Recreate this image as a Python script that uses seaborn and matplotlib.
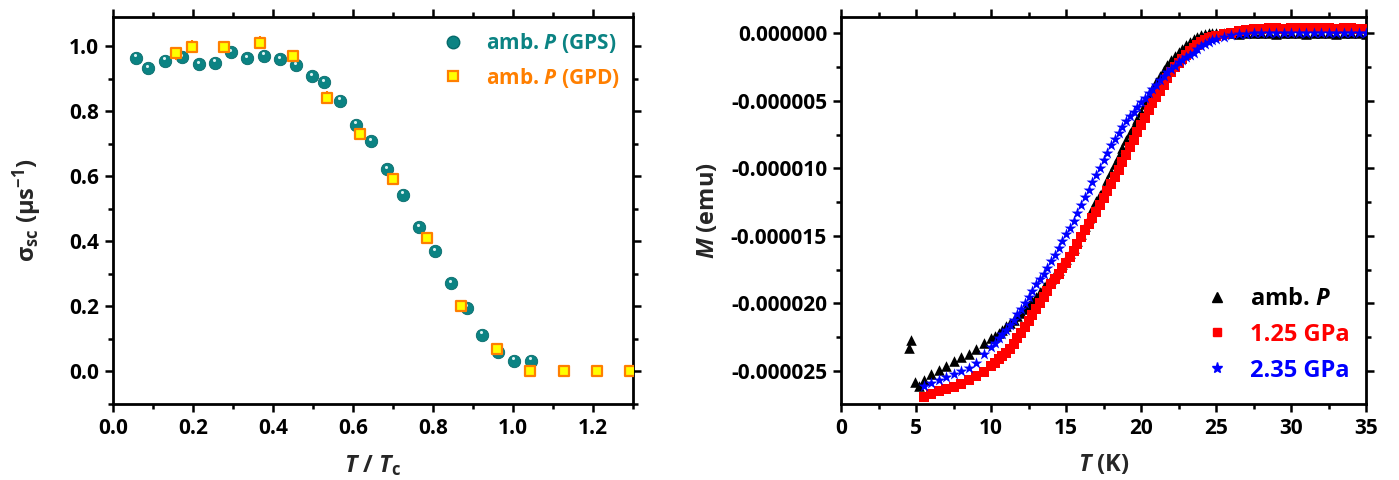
import numpy as np
import pandas as pd
import matplotlib
matplotlib.use("Agg")
import matplotlib.pyplot as plt
import matplotlib.transforms as mtransforms
import seaborn as sns
from matplotlib.ticker import MultipleLocator, FixedLocator, FormatStrFormatter
from matplotlib.lines import Line2D

# ==============================
# DATA
# ==============================

# left panel: sigma_sc vs T/Tc
gps_t = [0.057, 0.087, 0.131, 0.173, 0.215, 0.254, 0.296, 0.336, 0.377, 0.418,
         0.458, 0.498, 0.528, 0.568, 0.608, 0.646, 0.685, 0.725, 0.766, 0.806,
         0.845, 0.885, 0.922, 0.963, 1.002, 1.044]
gps_sigma = [0.964, 0.933, 0.956, 0.966, 0.945, 0.949, 0.982, 0.963, 0.971, 0.960,
             0.941, 0.908, 0.890, 0.833, 0.758, 0.708, 0.622, 0.543, 0.444, 0.370,
             0.272, 0.196, 0.113, 0.059, 0.033, 0.033]

gpd_t = [0.158, 0.197, 0.278, 0.368, 0.451, 0.534, 0.618, 0.700, 0.785, 0.871,
         0.960, 1.043, 1.127, 1.211, 1.293]
gpd_sigma = [0.978, 0.998, 0.998, 1.011, 0.969, 0.841, 0.731, 0.593, 0.410, 0.201,
             0.069, 0.0, 0.0, 0.0, 0.0]
gpd_err = [0.02, 0.02, 0.018, 0.02, 0.018, 0.02, 0.012, 0.01, 0.01, 0.008,
           0.01, 0.005, 0.005, 0.005, 0.005]

# right panel: M (in 1e-6 emu) vs T (K)
temp_grid = [5.5, 6.0, 6.5, 7.0, 7.5, 8.0, 8.5, 9.0, 9.5,
             10.0, 10.25, 10.5, 10.75, 11.0, 11.25, 11.5, 11.75, 12.0, 12.25,
             12.5, 12.75, 13.0, 13.25, 13.5, 13.75, 14.0, 14.25, 14.5, 14.75,
             15.0, 15.25, 15.5, 15.75, 16.0, 16.25, 16.5, 16.75, 17.0, 17.25,
             17.5, 17.75, 18.0, 18.25, 18.5, 18.75, 19.0, 19.25, 19.5, 19.75,
             20.0, 20.25, 20.5, 20.75, 21.0, 21.25, 21.5, 21.75, 22.0, 22.25,
             22.5, 22.75, 23.0, 23.25, 23.5, 23.75, 24.0, 24.25, 24.5, 24.75,
             25.0, 25.5, 26.0, 26.5, 27.0, 27.5, 28.0, 28.5, 29.0, 29.5,
             30.0, 30.5, 31.0, 31.5, 32.0, 32.5, 33.0, 33.5, 34.0, 34.5, 35.0]

amb_t = [4.5, 4.65, 4.95, 5.2] + temp_grid
amb_m = [-23.3, -22.7, -25.8, -26.1,
         -25.7, -25.2, -24.9, -24.6, -24.3, -24.0, -23.75, -23.35, -22.95,
         -22.6, -22.4, -22.2, -21.95, -21.7, -21.45, -21.2, -20.95, -20.7, -20.4,
         -20.1, -19.8, -19.5, -19.15, -18.8, -18.5, -18.2, -17.85, -17.5, -17.1,
         -16.7, -16.3, -15.9, -15.4, -14.9, -14.3, -13.7, -13.05, -12.4, -11.95,
         -11.5, -10.9, -10.3, -9.7, -9.1, -8.5, -7.9, -7.4, -6.9, -6.35,
         -5.8, -5.25, -4.7, -4.15, -3.6, -3.15, -2.7, -2.35, -2.0, -1.7,
         -1.4, -1.15, -0.9, -0.65, -0.4, -0.25, -0.1, -0.05, 0.0, 0.0,
         0.0, -0.02, 0.0, -0.03, 0.0, 0.02, -0.02, 0.0, -0.03, 0.0,
         -0.02, 0.0, -0.04, 0.0, -0.02, 0.0, -0.03, 0.0, -0.02, 0.0, -0.05]

gpa125_t = temp_grid
gpa125_m = [-26.9, -26.7, -26.5, -26.35, -26.2, -25.95, -25.7, -25.4, -25.05,
            -24.65, -24.4, -24.15, -23.9, -23.65, -23.35, -23.0, -22.6, -22.2, -21.75,
            -21.3, -20.85, -20.4, -19.95, -19.5, -19.05, -18.6, -18.2, -17.8, -17.4,
            -17.0, -16.55, -16.1, -15.6, -15.1, -14.6, -14.1, -13.65, -13.2, -12.7,
            -12.2, -11.7, -11.2, -10.65, -10.1, -9.55, -9.0, -8.45, -7.9, -7.35,
            -6.8, -6.25, -5.7, -5.2, -4.7, -4.25, -3.8, -3.3, -2.85, -2.5,
            -2.2, -1.9, -1.6, -1.35, -1.1, -0.85, -0.65, -0.5, -0.38, -0.27,
            -0.18, -0.05, 0.05, 0.15, 0.22, 0.28, 0.32, 0.35, 0.36, 0.34,
            0.37, 0.35, 0.36, 0.38, 0.35, 0.36, 0.34, 0.37, 0.35, 0.33, 0.34]

gpa235_t = temp_grid
gpa235_m = [-26.15, -25.9, -25.7, -25.45, -25.2, -25.0, -24.75, -24.4, -23.75,
            -23.2, -22.9, -22.6, -22.3, -21.95, -21.6, -21.2, -20.8, -20.4, -19.95,
            -19.5, -19.05, -18.6, -18.2, -17.8, -17.35, -16.9, -16.4, -15.9, -15.4,
            -14.9, -14.4, -13.9, -13.3, -12.7, -12.15, -11.6, -11.05, -10.5, -9.95,
            -9.4, -8.85, -8.3, -7.85, -7.4, -6.95, -6.5, -6.15, -5.8, -5.45,
            -5.1, -4.8, -4.45, -4.1, -3.8, -3.5, -3.2, -2.9, -2.65, -2.4,
            -2.15, -1.95, -1.75, -1.6, -1.45, -1.2, -0.95, -0.8, -0.65, -0.52,
            -0.42, -0.25, -0.15, -0.08, -0.03, 0.0, 0.01, -0.01, 0.0, 0.01,
            0.0, -0.01, 0.0, 0.01, 0.0, -0.01, 0.0, 0.0, -0.01, 0.0, -0.02]

# ==============================
# STYLE
# ==============================

sns.set_style("ticks")
FONT = ["Open Sans", "DejaVu Sans"]
plt.rcParams["font.family"] = FONT
plt.rcParams["font.weight"] = "bold"
plt.rcParams["axes.labelweight"] = "bold"
plt.rcParams["mathtext.fontset"] = "custom"
plt.rcParams["mathtext.rm"] = "Open Sans:bold"
plt.rcParams["mathtext.it"] = "Open Sans:italic:bold"
plt.rcParams["mathtext.bf"] = "Open Sans:bold"

TEAL = "#0b8383"
ORANGE = "#ff7f00"
YELLOW = "#ffff00"

fig = plt.figure(figsize=(13.99, 4.8), dpi=100)
ax1 = fig.add_axes([113 / 1399, 76 / 480, 520 / 1399, 387 / 480])
ax2 = fig.add_axes([841 / 1399, 76 / 480, 525 / 1399, 387 / 480])


def style_axes(ax):
    for sp in ax.spines.values():
        sp.set_visible(True)
        sp.set_linewidth(2)
        sp.set_color("black")
    ax.tick_params(which="both", direction="out", top=True, right=True,
                   labeltop=False, labelright=False, width=1.8, colors="black")
    ax.tick_params(which="major", length=6, labelsize=15, pad=4)
    ax.tick_params(which="minor", length=3.5)


# ---- left panel
gps = pd.DataFrame({"t": gps_t, "sigma": gps_sigma})
gpd = pd.DataFrame({"t": gpd_t, "sigma": gpd_sigma, "err": gpd_err})

sns.scatterplot(data=gps, x="t", y="sigma", ax=ax1, marker="o", s=80,
                color=TEAL, edgecolor="#066a6a", linewidth=0.6, zorder=3)
# little glossy highlight on the spheres
shine = mtransforms.offset_copy(ax1.transData, fig=fig, x=-1.0, y=2.5, units="dots")
ax1.scatter(gps["t"], gps["sigma"], marker="o", s=5, color="#d9f0f0",
            linewidths=0, transform=shine, zorder=3.5)
ax1.errorbar(gpd["t"], gpd["sigma"], yerr=gpd["err"], fmt="none",
             ecolor=ORANGE, elinewidth=1.5, capsize=0, zorder=4)
sns.scatterplot(data=gpd, x="t", y="sigma", ax=ax1, marker="s", s=48,
                color=YELLOW, edgecolor=ORANGE, linewidth=1.6, zorder=5)

ax1.set_xlim(0, 1.3)
ax1.set_ylim(-0.1, 1.09)
ax1.xaxis.set_major_locator(MultipleLocator(0.2))
ax1.xaxis.set_minor_locator(MultipleLocator(0.1))
ax1.yaxis.set_major_locator(MultipleLocator(0.2))
ax1.yaxis.set_minor_locator(MultipleLocator(0.1))
ax1.xaxis.set_major_formatter(FormatStrFormatter("%.1f"))
ax1.yaxis.set_major_formatter(FormatStrFormatter("%.1f"))
ax1.set_xlabel(r"$T$ / $T_{\mathregular{c}}$", fontsize=17, fontweight="bold", labelpad=10)
ax1.set_ylabel(r"σ$_{\mathregular{sc}}$ (μs$^{\mathregular{-1}}$)", fontsize=17,
               fontweight="bold", labelpad=18, family=FONT)
style_axes(ax1)

h1 = [Line2D([], [], ls="none", marker="o", ms=9, mfc=TEAL, mec="#066a6a"),
      Line2D([], [], ls="none", marker="s", ms=7, mfc=YELLOW, mec=ORANGE, mew=1.6)]
leg1 = ax1.legend(h1, [r"amb. $P$ (GPS)", r"amb. $P$ (GPD)"], loc="upper right",
                  frameon=False, fontsize=15, handlelength=2.0, handletextpad=0.6,
                  labelcolor=[TEAL, ORANGE], bbox_to_anchor=(0.992, 0.985),
                  borderaxespad=0.0, labelspacing=0.5)

# ---- right panel
amb = pd.DataFrame({"T": amb_t, "M": np.array(amb_m) * 1e-6})
p125 = pd.DataFrame({"T": gpa125_t, "M": np.array(gpa125_m) * 1e-6})
p235 = pd.DataFrame({"T": gpa235_t, "M": np.array(gpa235_m) * 1e-6})

sns.scatterplot(data=amb, x="T", y="M", ax=ax2, marker="^", s=58,
                color="black", linewidth=0, zorder=3)
sns.scatterplot(data=p125, x="T", y="M", ax=ax2, marker="s", s=50,
                color="#ff0000", linewidth=0, zorder=4)
sns.scatterplot(data=p235, x="T", y="M", ax=ax2, marker="*", s=80,
                color="#0000ff", linewidth=0, zorder=5)

ax2.set_xlim(0, 35)
ax2.set_ylim(-2.745e-5, 1.2e-6)
ax2.xaxis.set_major_locator(MultipleLocator(5))
ax2.xaxis.set_minor_locator(MultipleLocator(2.5))
ax2.yaxis.set_major_locator(FixedLocator([0.0, -5e-6, -10e-6, -15e-6, -20e-6, -25e-6]))
ax2.yaxis.set_minor_locator(FixedLocator([-2.5e-6, -7.5e-6, -12.5e-6, -17.5e-6, -22.5e-6]))
ax2.yaxis.set_major_formatter(FormatStrFormatter("%.6f"))
ax2.set_xlabel(r"$T$ (K)", fontsize=17, fontweight="bold", labelpad=10)
ax2.set_ylabel(r"$M$ (emu)", fontsize=17, fontweight="bold", labelpad=8)
style_axes(ax2)

h2 = [Line2D([], [], ls="none", marker="^", ms=7, mfc="black", mec="black"),
      Line2D([], [], ls="none", marker="s", ms=6, mfc="#ff0000", mec="#ff0000"),
      Line2D([], [], ls="none", marker="*", ms=8, mfc="#0000ff", mec="#0000ff")]
leg2 = ax2.legend(h2, [r"amb. $P$", "1.25 GPa", "2.35 GPa"], loc="lower right",
                  frameon=False, fontsize=17, handlelength=2.0, handletextpad=0.4,
                  labelcolor=["black", "#ff0000", "#0000ff"],
                  bbox_to_anchor=(0.987, 0.031), borderaxespad=0.0,
                  labelspacing=0.5)

fig.savefig("out.png", dpi=100)
